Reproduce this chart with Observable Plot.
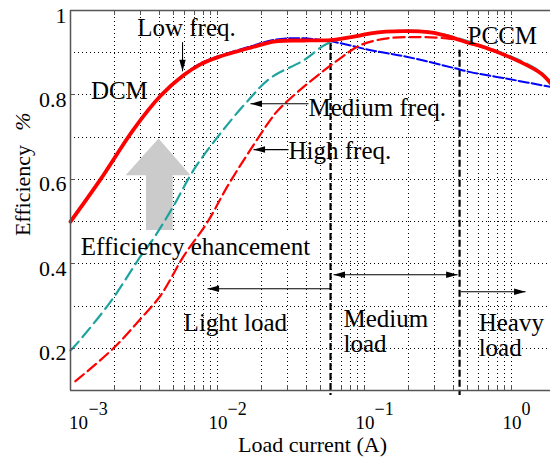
<!DOCTYPE html>
<html>
<head>
<meta charset="utf-8">
<script src="https://cdn.jsdelivr.net/npm/d3@7"></script>
<script src="https://cdn.jsdelivr.net/npm/@observablehq/plot@0.6"></script>
<style>
  body { margin: 0; background: #fff; }
  #chart svg { display: block; }
</style>
</head>
<body>
<div id="chart"></div>
<script>
// ---------- data (load current in A, efficiency) ----------
const lowI   = [0.001, 0.0016, 0.00268, 0.0041, 0.0059, 0.0077, 0.01, 0.0168, 0.0248, 0.0385, 0.0587, 0.094, 0.11, 0.184, 0.28, 0.385, 0.526, 0.615, 0.98, 1.57, 1.84];
const lowEff = [0.50, 0.60, 0.718, 0.798, 0.847, 0.873, 0.889, 0.912, 0.927, 0.929, 0.93, 0.941, 0.946, 0.951, 0.948, 0.937, 0.922, 0.916, 0.889, 0.852, 0.828];

const lowBlueI   = [0.001, 0.0016, 0.00268, 0.0041, 0.0059, 0.0077, 0.01, 0.0168, 0.0248, 0.0385, 0.0587, 0.11, 0.196, 0.403, 0.526, 0.98, 1.84];
const lowBlueEff = [0.50, 0.60, 0.718, 0.799, 0.848, 0.875, 0.891, 0.915, 0.931, 0.934, 0.927, 0.906, 0.89, 0.864, 0.854, 0.837, 0.819];

const medI   = [0.001, 0.00108, 0.00187, 0.003, 0.00367, 0.00502, 0.00687, 0.01, 0.0155, 0.0229, 0.0385, 0.056, 0.094, 0.184, 0.28, 0.385, 0.526, 0.98, 1.57, 1.84];
const medEff = [0.195, 0.207, 0.31, 0.418, 0.46, 0.537, 0.622, 0.70, 0.78, 0.84, 0.882, 0.922, 0.942, 0.952, 0.949, 0.939, 0.925, 0.892, 0.855, 0.83];

const highI   = [0.00108, 0.00196, 0.003, 0.0041, 0.0059, 0.00855, 0.0117, 0.0168, 0.0229, 0.026, 0.0385, 0.0655, 0.094, 0.143, 0.24, 0.385, 0.45, 0.526, 0.98, 1.57, 1.84];
const highEff = [0.122, 0.2, 0.27, 0.325, 0.419, 0.499, 0.584, 0.671, 0.741, 0.765, 0.819, 0.882, 0.918, 0.934, 0.937, 0.933, 0.929, 0.922, 0.889, 0.852, 0.828];

// region boundaries (load current) and the top of each dashed divider
const boundaryI   = [0.0587, 0.443];
const boundaryTop = [0.922, 0.906];

// axis ticks
const xDomain = [1e-3, 1.84];
const yDomain = [0.1, 1];
const xMajor = [1e-3, 1e-2, 1e-1, 1];
const xExponent = ["\u22123", "\u22122", "\u22121", "0"];
const yTickLabels = [0.2, 0.4, 0.6, 0.8, 1];
const yGridVals = [0.2, 0.3, 0.4, 0.5, 0.6, 0.7, 0.8, 0.9];

// annotations (data coordinates)
const annoText = ["Low freq.", "DCM", "Medium freq.", "High freq.", "PCCM", "Efficiency ehancement", "Light load", "Medium\nload", "Heavy\nload"];
const annoX    = [0.00615, 0.00215, 0.0416, 0.0304, 0.502, 0.00708, 0.00588, 0.0719, 0.597];
const annoY    = [0.958, 0.809, 0.769, 0.668, 0.939, 0.44, 0.259, 0.24, 0.2306];
const annoAlign = ["middle", "middle", "start", "start", "start", "middle", "start", "start", "start"];

const arrowX1 = [0.00578, 0.0416, 0.0304, 0.0587, 0.0615, 0.4497];
const arrowY1 = [0.925, 0.779, 0.6706, 0.341, 0.374, 0.334];
const arrowX2 = [0.00578, 0.01675, 0.01758, 0.00855, 0.4296, 1.245];
const arrowY2 = [0.856, 0.779, 0.6706, 0.341, 0.374, 0.334];
const arrowBoth = [false, false, false, false, true, false];

// big grey "efficiency enhancement" arrow outline
const greyArrowI   = [0.00397, 0.00655, 0.00495, 0.00495, 0.00326, 0.00326, 0.00237];
const greyArrowEff = [0.697, 0.610, 0.610, 0.480, 0.480, 0.610, 0.610];

// white box behind the "Efficiency ehancement" label
const boxI = [0.00121, 0.0416];
const boxEff = [0.412, 0.479];

// ---------- build tables ----------
const zip = (xs, ys) => xs.map((x, i) => ({x, y: ys[i]}));
const low = zip(lowI, lowEff), lowBlue = zip(lowBlueI, lowBlueEff);
const med = zip(medI, medEff), high = zip(highI, highEff);
const boundaries = boundaryI.map((x, i) => ({x, top: boundaryTop[i]}));
const labels = annoText.map((t, i) => ({t, x: annoX[i], y: annoY[i], a: annoAlign[i]}));
const arrows = arrowX1.map((x1, i) => ({x1, y1: arrowY1[i], x2: arrowX2[i], y2: arrowY2[i], both: arrowBoth[i]}));
const greyArrow = zip(greyArrowI, greyArrowEff);
const whiteBox = [{x1: boxI[0], x2: boxI[1], y1: boxEff[0], y2: boxEff[1]}];

const xGrid = [];
for (const e of [-3, -2, -1]) for (let m = 1; m <= 9; m++) { const v = m * Math.pow(10, e); if (v > xDomain[0] * 1.01) xGrid.push(v); }
xGrid.push(1);

function dirAngle(x1, y1, x2, y2) {
  if (x2 > x1) return 90;
  if (x2 < x1) return 270;
  return y2 < y1 ? 180 : 0;
}
const heads = [];
for (const a of arrows) {
  heads.push({x: a.x2, y: a.y2, r: dirAngle(a.x1, a.y1, a.x2, a.y2)});
  if (a.both) heads.push({x: a.x1, y: a.y1, r: dirAngle(a.x2, a.y2, a.x1, a.y1)});
}
const headSymbol = {
  draw(ctx, size) {
    const l = Math.sqrt(size), w = l * 0.28;
    ctx.moveTo(0, 0); ctx.lineTo(w, l); ctx.lineTo(-w, l); ctx.closePath();
  }
};

const serif = "'Liberation Serif', 'Times New Roman', Times, serif";
const gridStyle = {stroke: "#000", strokeWidth: 1, strokeDasharray: "1,3", shapeRendering: "crispEdges"};
const frameColor = "#555";
const tickStyle = {stroke: frameColor, strokeWidth: 1, shapeRendering: "crispEdges"};

const chart = Plot.plot({
  width: 550, height: 460,
  marginTop: 10, marginLeft: 70, marginRight: 0, marginBottom: 70,
  x: {type: "log", domain: xDomain, axis: null},
  y: {domain: yDomain, axis: null},
  style: {fontFamily: serif, background: "#fff", color: "#000", overflow: "visible"},
  marks: [
    // grid
    Plot.ruleX(xGrid, {x: d => d, y1: yDomain[0], y2: yDomain[1], ...gridStyle}),
    Plot.ruleY(yGridVals, {y: d => d, x1: xDomain[0], x2: xDomain[1], ...gridStyle}),
    // grey enhancement arrow and label box
    Plot.line(greyArrow, {x: "x", y: "y", fill: "#cbcbcb", stroke: "none"}),
    Plot.rect(whiteBox, {x1: "x1", x2: "x2", y1: "y1", y2: "y2", fill: "#fff"}),
    // region dividers
    Plot.ruleX(boundaries, {x: "x", y1: "top", y2: 0.088, stroke: "#000", strokeWidth: 2.2, strokeDasharray: "7,3"}),
    // curves
    Plot.line(lowBlue, {x: "x", y: "y", stroke: "#0000ff", strokeWidth: 2, strokeDasharray: "10,3", curve: "catmull-rom"}),
    Plot.line(med, {x: "x", y: "y", stroke: "#1ea39f", strokeWidth: 2.2, strokeDasharray: "12,6", curve: "catmull-rom"}),
    Plot.line(high, {x: "x", y: "y", stroke: "#ff0000", strokeWidth: 2.2, strokeDasharray: "11,5", curve: "catmull-rom"}),
    Plot.line(low, {x: "x", y: "y", stroke: "#ff0000", strokeWidth: 3.8, curve: "catmull-rom"}),
    // frame
    Plot.ruleY([yDomain[0], yDomain[1]], {y: d => d, x1: xDomain[0], x2: xDomain[1], stroke: frameColor, strokeWidth: 1.3}),
    Plot.ruleX([xDomain[0]], {x: d => d, y1: yDomain[0], y2: yDomain[1], stroke: frameColor, strokeWidth: 1.5}),
    // inward ticks
    Plot.ruleX(xGrid, {x: d => d, y1: yDomain[0], y2: yDomain[0], insetTop: -5, ...tickStyle}),
    Plot.ruleX(xGrid, {x: d => d, y1: yDomain[1], y2: yDomain[1], insetBottom: -5, ...tickStyle}),
    Plot.ruleY(yTickLabels, {y: d => d, x1: xDomain[0], x2: xDomain[0], insetRight: -5, ...tickStyle}),
    // x tick labels 10^k
    Plot.text(xMajor.slice(0, 1), {x: d => d, y: yDomain[0], text: () => "10", fontSize: 19, dy: 32, dx: 8}),
    Plot.text(xMajor.slice(1), {x: d => d, y: yDomain[0], text: () => "10", fontSize: 19, dy: 32, dx: 0.5}),
    Plot.text(xMajor.slice(0, 1), {x: d => d, y: yDomain[0], text: () => xExponent[0], fontSize: 18, dy: 19, dx: 18, textAnchor: "start"}),
    Plot.text(xMajor.slice(1), {x: d => d, y: yDomain[0], text: (d, i) => xExponent[i + 1], fontSize: 18, dy: 19, dx: 10, textAnchor: "start"}),
    // y tick labels
    Plot.text(yTickLabels, {x: xDomain[0], y: d => d, text: d => String(d), fontSize: 22, textAnchor: "end", dx: -4, dy: 5}),
    // axis titles
    Plot.text(["Load current (A)"], {frameAnchor: "bottom", text: d => d, fontSize: 22, dy: 61, dx: 2}),
    Plot.text(["Efficiency"], {frameAnchor: "left", text: d => d, fontSize: 22, rotate: -90, textAnchor: "middle", dx: -48, dy: -10}),
    Plot.text(["%"], {frameAnchor: "left", text: d => d, fontSize: 22, fontStyle: "italic", rotate: -90, textAnchor: "middle", dx: -48, dy: -79}),
    // annotation arrows
    Plot.link(arrows, {x1: "x1", y1: "y1", x2: "x2", y2: "y2", stroke: "#000", strokeWidth: 1.1}),
    Plot.dot(heads, {x: "x", y: "y", rotate: "r", symbol: headSymbol, r: 6.5, fill: "#000", stroke: "none"}),
    // annotation labels
    Plot.text(labels.filter(d => d.a === "middle"), {x: "x", y: "y", text: "t", fontSize: 25, textAnchor: "middle"}),
    Plot.text(labels.filter(d => d.a === "start"), {x: "x", y: "y", text: "t", fontSize: 25, textAnchor: "start", lineHeight: 1.0})
  ]
});
document.getElementById("chart").appendChild(chart);
</script>
</body>
</html>
